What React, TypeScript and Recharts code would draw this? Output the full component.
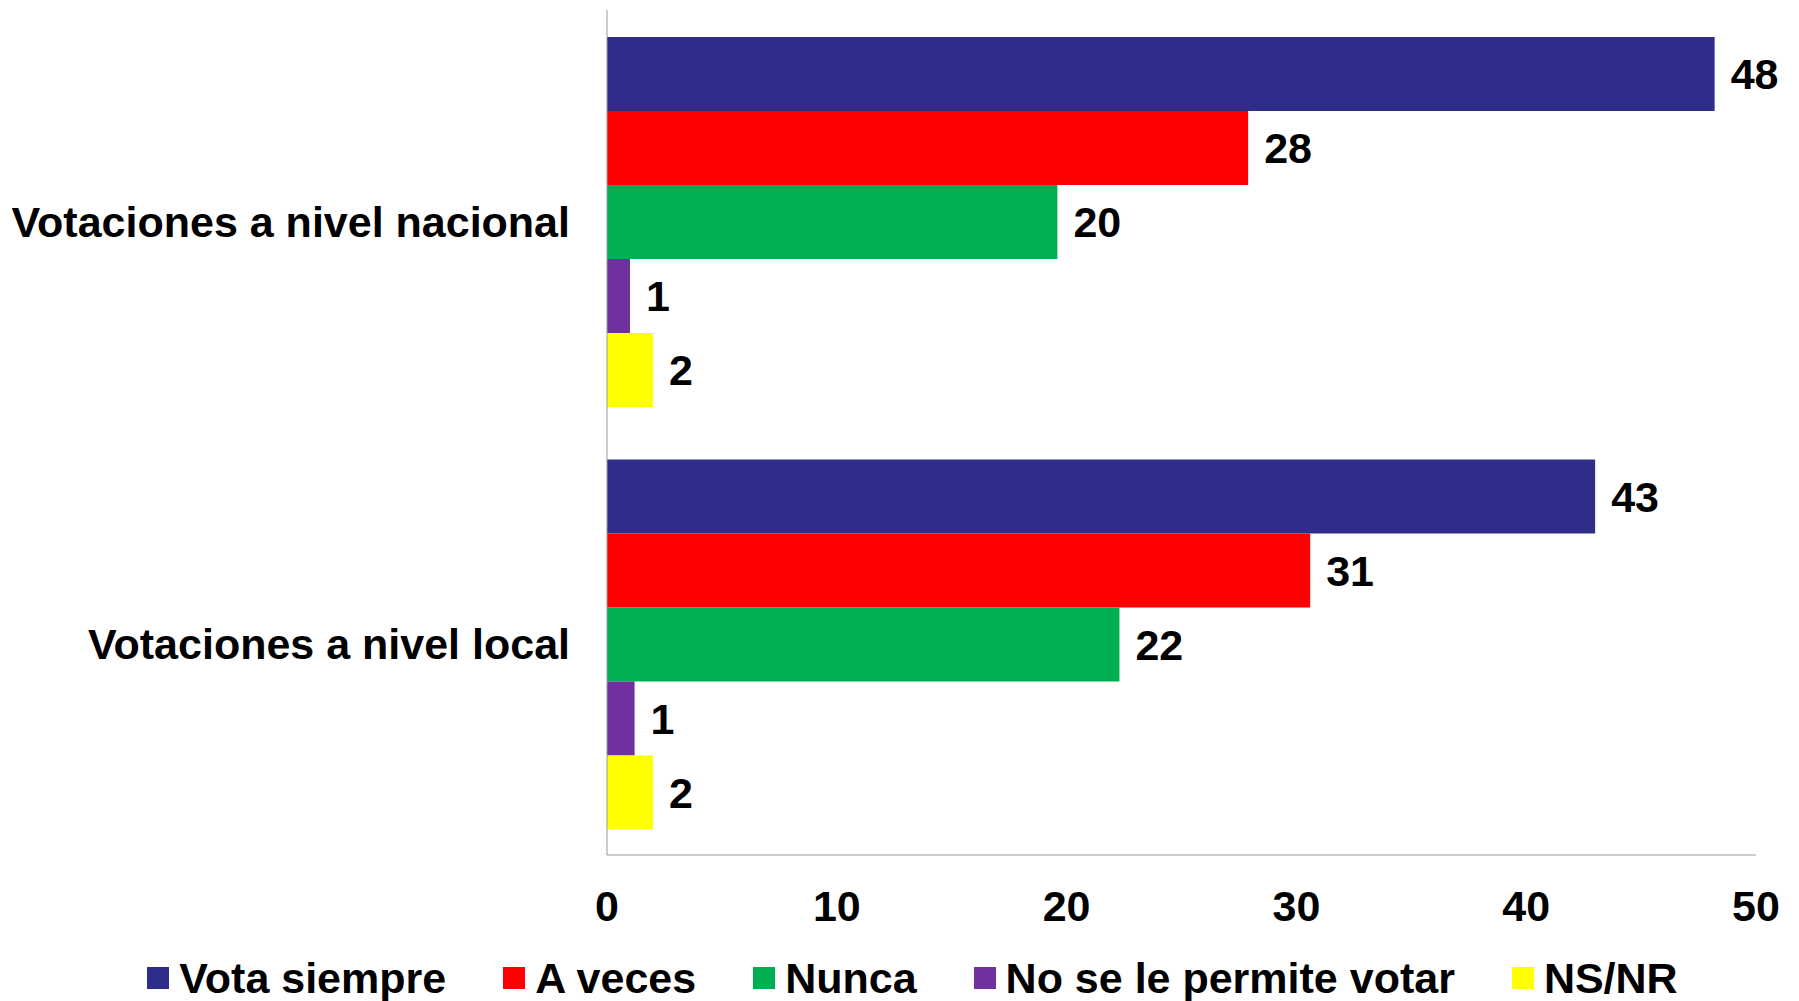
import { BarChart, Bar, XAxis, YAxis, Legend, LabelList } from 'recharts'

const categories = ['Votaciones a nivel nacional', 'Votaciones a nivel local']
const votaSiempre = [48.2, 43.0]
const aVeces = [27.9, 30.6]
const nunca = [19.6, 22.3]
const noPermite = [1.0, 1.2]
const nsnr = [2.0, 2.0]
const xTicks = [0, 10, 20, 30, 40, 50]

const series = [
  { key: 'siempre', name: 'Vota siempre', color: '#2E2E8A' },
  { key: 'veces', name: 'A veces', color: '#FF0000' },
  { key: 'nunca', name: 'Nunca', color: '#00B050' },
  { key: 'noPermite', name: 'No se le permite votar', color: '#7030A0' },
  { key: 'nsnr', name: 'NS/NR', color: '#FFFF00' },
]

const data = categories.map((name, i) => ({
  name,
  siempre: votaSiempre[i],
  veces: aVeces[i],
  nunca: nunca[i],
  noPermite: noPermite[i],
  nsnr: nsnr[i],
}))

const font = '"Liberation Sans", Arial, sans-serif'
const textStyle = { fontFamily: font, fontWeight: 700, fontSize: 43, fill: '#000' }

const LegendRow = () => (
  <div style={{ display: 'flex', justifyContent: 'center', alignItems: 'center', height: 46, fontFamily: font, fontWeight: 700, fontSize: 43, color: '#000', paddingLeft: 69 }}>
    {series.map((s, i) => (
      <div key={s.key} style={{ display: 'flex', alignItems: 'center', marginRight: i === series.length - 1 ? 0 : 57 }}>
        <span style={{ width: 22, height: 22, background: s.color, marginRight: 10, display: 'inline-block' }} />
        <span style={{ lineHeight: '46px' }}>{s.name}</span>
      </div>
    ))}
  </div>
)

export default function App() {
  return (
    <div style={{ position: 'absolute', left: 0, top: 0, background: '#fff' }}>
      <BarChart
        width={1799}
        height={1001}
        data={data}
        layout="vertical"
        margin={{ top: 10, right: 43, left: 0, bottom: 0 }}
        barCategoryGap="6.4%"
        barGap={0}
      >
        <XAxis
          type="number"
          domain={[0, 50]}
          ticks={xTicks}
          tickLine={false}
          tickSize={6}
          tickMargin={29}
          height={100}
          stroke="#999"
          tick={textStyle}
          interval={0}
        />
        <YAxis
          type="category"
          dataKey="name"
          width={607}
          tickLine={false}
          tickSize={6}
          tickMargin={31}
          stroke="#999"
          tick={textStyle}
        />
        <Legend verticalAlign="bottom" content={() => <LegendRow />} />
        {series.map(s => (
          <Bar key={s.key} dataKey={s.key} name={s.name} fill={s.color} isAnimationActive={false}>
            <LabelList
              dataKey={s.key}
              position="right"
              offset={16}
              formatter={(v: any) => Math.round(Number(v))}
              style={textStyle}
            />
          </Bar>
        ))}
      </BarChart>
    </div>
  )
}
